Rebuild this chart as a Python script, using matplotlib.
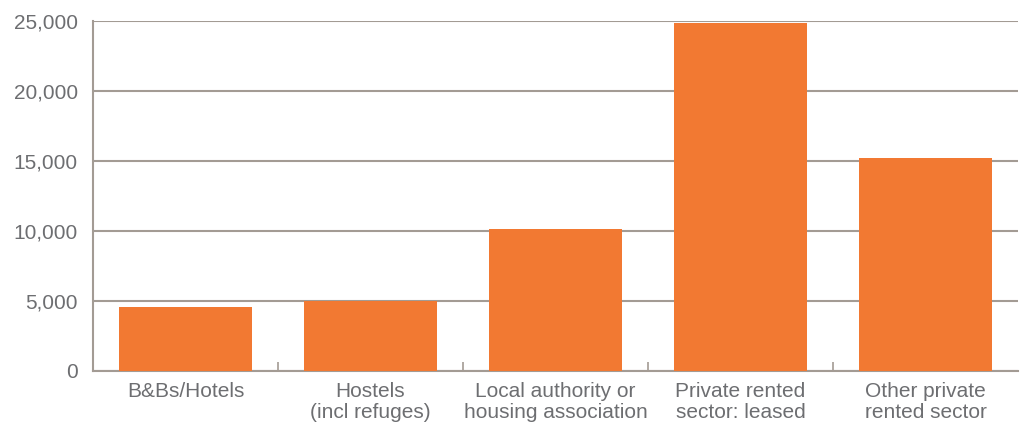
import numpy as np
import matplotlib.pyplot as plt
from matplotlib.ticker import FuncFormatter, FixedLocator

categories = ['B&Bs/Hotels', 'Hostels\n(incl refuges)', 'Local authority or\nhousing association',
              'Private rented\nsector: leased', 'Other private\nrented sector']
households = [4570, 5000, 10140, 24860, 15210]

plt.rcParams['font.family'] = ['Liberation Sans', 'DejaVu Sans']
text_color = '#6d6e71'
line_color = '#a39b94'

fig = plt.figure(figsize=(10.21, 4.28), dpi=100)
ax = fig.add_axes([0.0911, 0.1332, 0.9059, 0.8186])

ind = np.arange(len(categories))
ax.bar(ind, households, 0.72, color='#f27932', zorder=3)

ax.set_xlim(-0.5, len(categories) - 0.5)
ax.set_ylim(0, 25000)
ax.set_yticks(np.arange(0, 25001, 5000))
ax.yaxis.set_major_formatter(FuncFormatter(lambda v, p: '{:,.0f}'.format(v)))
ax.grid(axis='y', color=line_color, linewidth=1.5, zorder=1)

ax.set_xticks(ind)
ax.set_xticklabels(categories, linespacing=1.1)
ax.xaxis.set_minor_locator(FixedLocator(ind[:-1] + 0.5))
ax.tick_params(axis='x', which='major', length=0, pad=8, labelsize=15, labelcolor=text_color)
ax.tick_params(axis='x', which='minor', direction='in', length=6.5, width=1.2, color=line_color)
ax.tick_params(axis='y', length=0, pad=11, labelsize=15, labelcolor=text_color)

for side in ['top', 'right']:
    ax.spines[side].set_visible(False)
for side in ['left', 'bottom']:
    ax.spines[side].set_color(line_color)
    ax.spines[side].set_linewidth(1.5)

fig.savefig('out.png', dpi=100)
